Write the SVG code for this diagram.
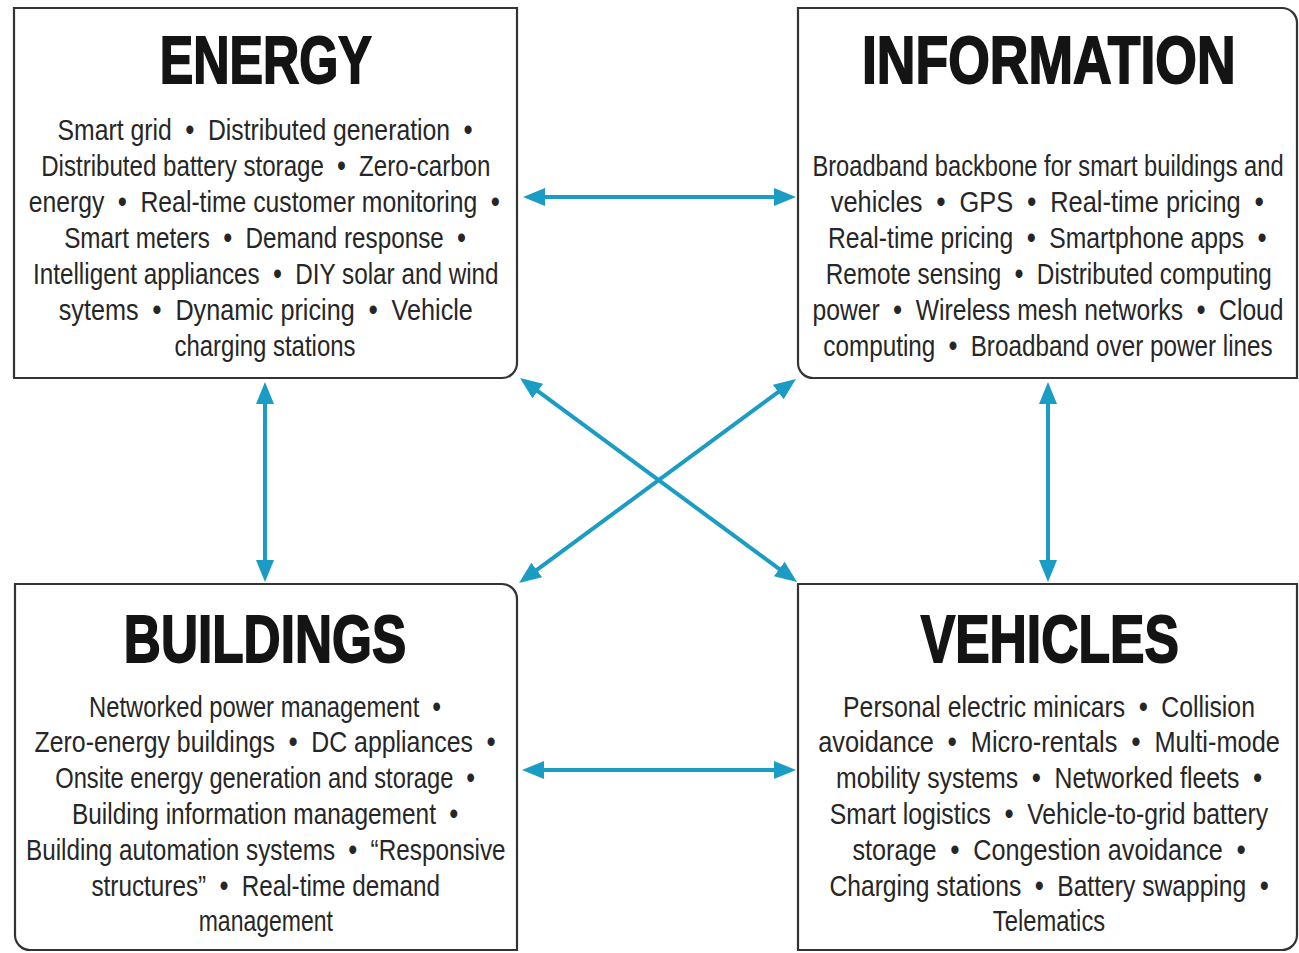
<svg xmlns="http://www.w3.org/2000/svg" width="1299" height="953" viewBox="0 0 1299 953">
  <style>
    .box { fill: #ffffff; stroke: #333333; stroke-width: 2.2; }
    .title { font-family: "Liberation Sans", Arial, sans-serif; font-weight: 700; font-size: 66px; fill: #141414; stroke: #141414; stroke-width: 1.8; text-anchor: middle; }
    .body { font-family: "Liberation Sans", Arial, sans-serif; font-size: 29px; fill: #262626; text-anchor: middle; white-space: pre; }
    .b { font-weight: 700; }
    .link { stroke: #1a9cc4; stroke-width: 4; fill: none; marker-start: url(#head); marker-end: url(#head); }
  </style>
  <defs>
    <marker id="head" viewBox="0 0 22 18" markerWidth="22" markerHeight="18" refX="7" refY="9" orient="auto-start-reverse" markerUnits="userSpaceOnUse">
      <path d="M0,0 L22,9 L0,18 Z" fill="#1a9cc4"/>
    </marker>
  </defs>
  <rect width="1299" height="953" fill="#ffffff"/>

  <g id="energy">
    <path class="box" d="M14,8 H517 V363 A15,15 0 0 1 502,378 H14 Z"/>
    <!-- condensed lettering: horizontal squeeze around the box centre -->
    <g transform="translate(265 0) scale(0.78 1)">
      <text class="title" x="1" y="83" textLength="272" lengthAdjust="spacingAndGlyphs">ENERGY</text>
      <text class="body" x="0" y="140" textLength="532" lengthAdjust="spacingAndGlyphs">Smart grid  <tspan class="b">•</tspan>  Distributed generation  <tspan class="b">•</tspan></text>
      <text class="body" x="1" y="176" textLength="576" lengthAdjust="spacingAndGlyphs">Distributed battery storage  <tspan class="b">•</tspan>  Zero-carbon</text>
      <text class="body" x="-1" y="212" textLength="604" lengthAdjust="spacingAndGlyphs">energy  <tspan class="b">•</tspan>  Real-time customer monitoring  <tspan class="b">•</tspan></text>
      <text class="body" x="0" y="248" textLength="515" lengthAdjust="spacingAndGlyphs">Smart meters  <tspan class="b">•</tspan>  Demand response  <tspan class="b">•</tspan></text>
      <text class="body" x="1" y="284" textLength="597" lengthAdjust="spacingAndGlyphs">Intelligent appliances  <tspan class="b">•</tspan>  DIY solar and wind</text>
      <text class="body" x="1" y="320" textLength="531" lengthAdjust="spacingAndGlyphs">sytems  <tspan class="b">•</tspan>  Dynamic pricing  <tspan class="b">•</tspan>  Vehicle</text>
      <text class="body" x="0" y="356" textLength="232" lengthAdjust="spacingAndGlyphs">charging stations</text>
    </g>
  </g>

  <g id="information">
    <path class="box" d="M798,8 H1282 A15,15 0 0 1 1297,23 V378 H813 A15,15 0 0 1 798,363 Z"/>
    <g transform="translate(1048 0) scale(0.78 1)">
      <text class="title" x="1" y="83" textLength="479" lengthAdjust="spacingAndGlyphs">INFORMATION</text>
      <text class="body" x="0" y="176" textLength="604" lengthAdjust="spacingAndGlyphs">Broadband backbone for smart buildings and</text>
      <text class="body" x="-1" y="212" textLength="555" lengthAdjust="spacingAndGlyphs">vehicles  <tspan class="b">•</tspan>  GPS  <tspan class="b">•</tspan>  Real-time pricing  <tspan class="b">•</tspan></text>
      <text class="body" x="-1" y="248" textLength="562" lengthAdjust="spacingAndGlyphs">Real-time pricing  <tspan class="b">•</tspan>  Smartphone apps  <tspan class="b">•</tspan></text>
      <text class="body" x="1" y="284" textLength="572" lengthAdjust="spacingAndGlyphs">Remote sensing  <tspan class="b">•</tspan>  Distributed computing</text>
      <text class="body" x="0" y="320" textLength="604" lengthAdjust="spacingAndGlyphs">power  <tspan class="b">•</tspan>  Wireless mesh networks  <tspan class="b">•</tspan>  Cloud</text>
      <text class="body" x="0" y="356" textLength="576" lengthAdjust="spacingAndGlyphs">computing  <tspan class="b">•</tspan>  Broadband over power lines</text>
    </g>
  </g>

  <g id="buildings">
    <path class="box" d="M15,584 H502 A15,15 0 0 1 517,599 V950 H30 A15,15 0 0 1 15,935 Z"/>
    <g transform="translate(265 0) scale(0.78 1)">
      <text class="title" x="0" y="662" textLength="362" lengthAdjust="spacingAndGlyphs">BUILDINGS</text>
      <text class="body" x="0" y="717" textLength="451" lengthAdjust="spacingAndGlyphs">Networked power management  <tspan class="b">•</tspan></text>
      <text class="body" x="0" y="752" textLength="591" lengthAdjust="spacingAndGlyphs">Zero-energy buildings  <tspan class="b">•</tspan>  DC appliances  <tspan class="b">•</tspan></text>
      <text class="body" x="0" y="788" textLength="538" lengthAdjust="spacingAndGlyphs">Onsite energy generation and storage  <tspan class="b">•</tspan></text>
      <text class="body" x="0" y="824" textLength="495" lengthAdjust="spacingAndGlyphs">Building information management  <tspan class="b">•</tspan></text>
      <text class="body" x="1" y="860" textLength="615" lengthAdjust="spacingAndGlyphs">Building automation systems  <tspan class="b">•</tspan>  “Responsive</text>
      <text class="body" x="1" y="896" textLength="447" lengthAdjust="spacingAndGlyphs">structures”  <tspan class="b">•</tspan>  Real-time demand</text>
      <text class="body" x="1" y="931" textLength="172" lengthAdjust="spacingAndGlyphs">management</text>
    </g>
  </g>

  <g id="vehicles">
    <path class="box" d="M798,584 H1297 V935 A15,15 0 0 1 1282,950 H798 Z"/>
    <g transform="translate(1049 0) scale(0.78 1)">
      <text class="title" x="1" y="662" textLength="331" lengthAdjust="spacingAndGlyphs">VEHICLES</text>
      <text class="body" x="0" y="717" textLength="528" lengthAdjust="spacingAndGlyphs">Personal electric minicars  <tspan class="b">•</tspan>  Collision</text>
      <text class="body" x="0" y="752" textLength="592" lengthAdjust="spacingAndGlyphs">avoidance  <tspan class="b">•</tspan>  Micro-rentals  <tspan class="b">•</tspan>  Multi-mode</text>
      <text class="body" x="0" y="788" textLength="546" lengthAdjust="spacingAndGlyphs">mobility systems  <tspan class="b">•</tspan>  Networked fleets  <tspan class="b">•</tspan></text>
      <text class="body" x="0" y="824" textLength="562" lengthAdjust="spacingAndGlyphs">Smart logistics  <tspan class="b">•</tspan>  Vehicle-to-grid battery</text>
      <text class="body" x="0" y="860" textLength="504" lengthAdjust="spacingAndGlyphs">storage  <tspan class="b">•</tspan>  Congestion avoidance  <tspan class="b">•</tspan></text>
      <text class="body" x="0" y="896" textLength="563" lengthAdjust="spacingAndGlyphs">Charging stations  <tspan class="b">•</tspan>  Battery swapping  <tspan class="b">•</tspan></text>
      <text class="body" x="0" y="931" textLength="144" lengthAdjust="spacingAndGlyphs">Telematics</text>
    </g>
  </g>

  <g id="connectors">
    <line class="link" x1="538" y1="197" x2="781" y2="197"/>
    <line class="link" x1="537" y1="770" x2="781" y2="770"/>
    <line class="link" x1="265" y1="397" x2="265" y2="567"/>
    <line class="link" x1="1048" y1="397" x2="1048" y2="567"/>
    <line class="link" x1="532.1" y1="386.9" x2="784.9" y2="573.1"/>
    <line class="link" x1="783.9" y1="387.9" x2="531.1" y2="574.1"/>
  </g>
</svg>
